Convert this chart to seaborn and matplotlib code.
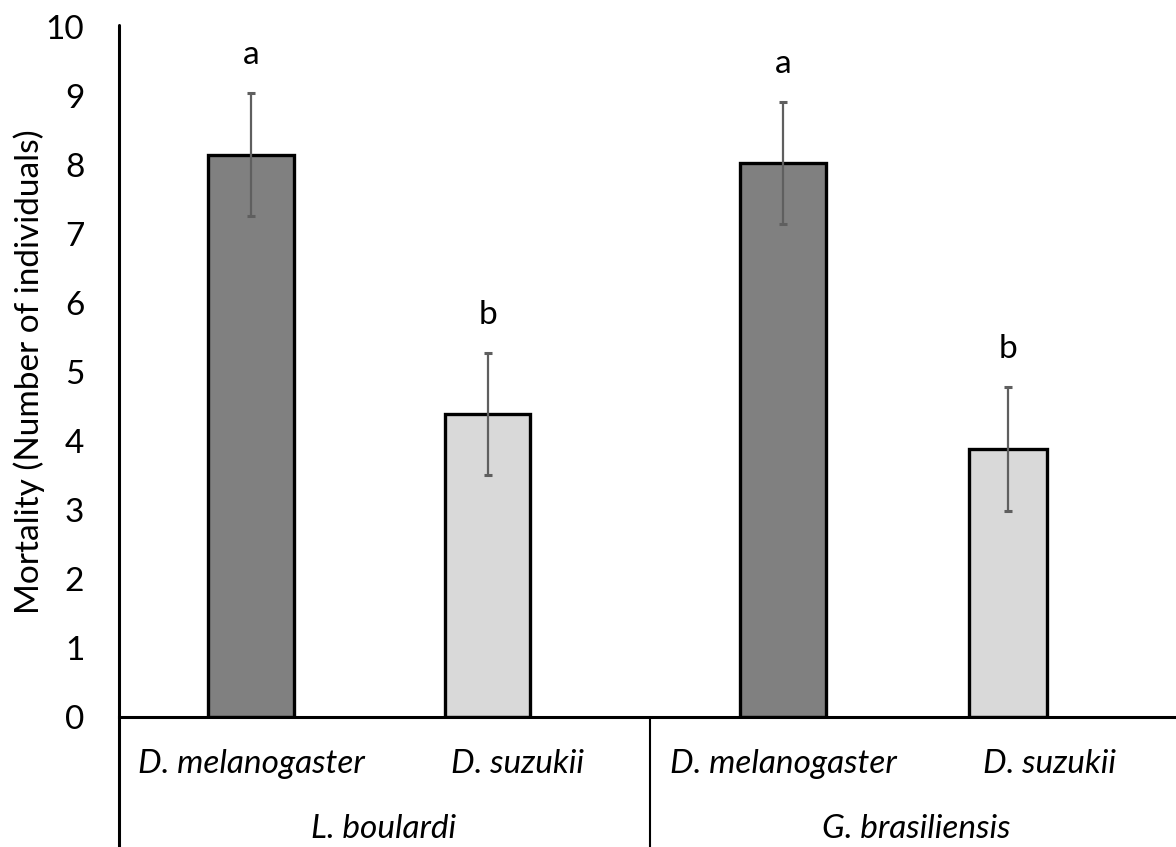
import matplotlib
matplotlib.use("Agg")
import matplotlib.pyplot as plt
import matplotlib.transforms as mtransforms
from matplotlib.lines import Line2D
import seaborn as sns
import pandas as pd

# data
parasitoids = ["L. boulardi", "L. boulardi", "G. brasiliensis", "G. brasiliensis"]
hosts = ["D. melanogaster", "D. suzukii", "D. melanogaster", "D. suzukii"]
mortality = [8.15, 4.39, 8.03, 3.88]
sem = [0.89, 0.88, 0.88, 0.90]
letters = ["a", "b", "a", "b"]
group_names = ["L. boulardi", "G. brasiliensis"]

bar_colors = ["#808080", "#d9d9d9", "#808080", "#d9d9d9"]
# small horizontal nudges / widths seen in the reference (category units)
x_shift = [0.0, -0.11, 0.0, -0.155]
bar_width = [0.32, 0.32, 0.32, 0.295]

df = pd.DataFrame({
    "bar": [f"{p}|{h}" for p, h in zip(parasitoids, hosts)],
    "host": hosts,
    "mortality": mortality,
})

sns.set_theme(style="white")
plt.rcParams["font.family"] = ["Lato", "DejaVu Sans"]
FS = 24

W, H = 1176, 847
fig = plt.figure(figsize=(W / 100, H / 100), dpi=100)
ax = fig.add_axes([119 / W, 130 / H, 1 - 119 / W, 690 / H])

sns.barplot(data=df, x="bar", y="mortality", hue="bar", palette=bar_colors,
            legend=False, width=0.32, edgecolor="black", linewidth=2.4,
            errorbar=None, ax=ax)

centers = []
for i, patch in enumerate(ax.patches):
    c = i + x_shift[i]
    patch.set_width(bar_width[i])
    patch.set_x(c - bar_width[i] / 2)
    centers.append(c)

ax.errorbar(centers, mortality, yerr=sem, fmt="none", ecolor="#5f5f5f",
            elinewidth=1.6, capsize=2.6, capthick=2.2, zorder=5)

for c, m, e, t in zip(centers, mortality, sem, letters):
    ax.text(c, m + e + 0.56, t, ha="center", va="center", fontsize=FS,
            color="black")

ax.set_ylim(0, 10)
ax.set_xlim(-0.496, 3.477)
ax.set_yticks(range(0, 11))
ax.tick_params(axis="y", length=0, pad=25, labelsize=FS, labelcolor="black")
ax.set_xticks([])
ax.set_xlabel("")
ax.set_ylabel("Mortality (Number of individuals)", fontsize=FS, color="black")
ax.yaxis.set_label_coords(-0.07, 0.5)

sns.despine(ax=ax, top=True, right=True, left=True)
ax.spines["bottom"].set_color("black")
ax.spines["bottom"].set_linewidth(2.2)

# multi-level category axis under the plot
trans = mtransforms.blended_transform_factory(ax.transData, ax.transAxes)
ax.add_line(Line2D([-0.496, -0.496], [-0.2, 1.003], transform=trans,
                   color="black", linewidth=2.2, clip_on=False))
ax.add_line(Line2D([1.5, 1.5], [-0.2, 0], transform=trans,
                   color="black", linewidth=1.5, clip_on=False))

for i, h in enumerate(hosts):
    ax.text(i, -0.081, h, transform=trans, ha="center", va="baseline",
            fontsize=FS, style="italic", color="black", clip_on=False)
for g, name in enumerate(group_names):
    ax.text(0.5 + 2 * g, -0.175, name, transform=trans, ha="center",
            va="baseline", fontsize=FS, style="italic", color="black",
            clip_on=False)

fig.savefig("out.png", dpi=100, facecolor="white")
